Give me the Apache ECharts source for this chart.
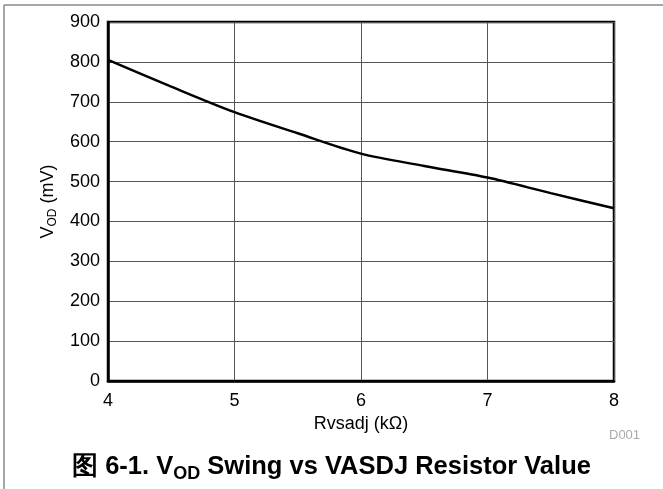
<!DOCTYPE html>
<html>
<head>
<meta charset="utf-8">
<script src="https://cdn.jsdelivr.net/npm/echarts@6/dist/echarts.min.js"></script>
<style>
  html, body { margin: 0; padding: 0; background: #fff; }
  #chart { width: 663px; height: 489px; }
</style>
</head>
<body>
<div id="chart"></div>
<script>
// 读图得到的数据
var resistance = [4, 4.5, 5, 5.5, 6, 6.5, 7, 7.5, 8];       // kΩ
var vod = [805, 738, 674, 621, 570, 539, 510, 471, 433];     // mV
var xTicks = [4, 5, 6, 7, 8];
var yTicks = [0, 100, 200, 300, 400, 500, 600, 700, 800, 900];

var font = 'Liberation Sans, Arial, sans-serif';

var points = resistance.map(function (r, i) { return [r, vod[i]]; });

var myChart = echarts.init(document.getElementById('chart'));

var option = {
    animation: false,
    grid: {
        left: 108, right: 49, top: 22, bottom: 108,
        show: true, borderColor: '#000', borderWidth: 2.5
    },
    title: {
        left: 'center',
        top: 445,
        text: '{a|图 6-1. V}{s|OD}{a| Swing vs VASDJ Resistor Value}',
        textStyle: {
            rich: {
                a: { fontSize: 25.5, fontWeight: 'bold', fontFamily: font, color: '#000', lineHeight: 33 },
                s: { fontSize: 18, fontWeight: 'bold', fontFamily: font, color: '#000', lineHeight: 25, verticalAlign: 'bottom' }
            }
        }
    },
    xAxis: {
        type: 'value',
        min: xTicks[0], max: xTicks[xTicks.length - 1], interval: 1,
        name: 'Rvsadj (kΩ)',
        nameLocation: 'middle',
        nameGap: 26,
        nameTextStyle: { fontSize: 18, fontFamily: font, color: '#000' },
        axisLine: { lineStyle: { color: '#000', width: 2.5 } },
        axisTick: { show: false },
        axisLabel: { margin: 11, fontSize: 18, fontFamily: font, color: '#000' },
        splitLine: { lineStyle: { color: '#555', width: 1 } }
    },
    yAxis: {
        type: 'value',
        min: yTicks[0], max: yTicks[yTicks.length - 1], interval: 100,
        name: '{a|V}{s|OD}{a| (mV)}',
        nameLocation: 'middle',
        nameGap: 49,
        nameRotate: 90,
        nameTextStyle: {
            rich: {
                a: { fontSize: 18, fontFamily: font, color: '#000', lineHeight: 22 },
                s: { fontSize: 12, fontFamily: font, color: '#000', lineHeight: 14, verticalAlign: 'bottom' }
            }
        },
        axisLine: { lineStyle: { color: '#000', width: 2.5 } },
        axisTick: { show: false },
        axisLabel: { margin: 8, fontSize: 18, fontFamily: font, color: '#000' },
        splitLine: { lineStyle: { color: '#555', width: 1 } }
    },
    series: [{
        type: 'line',
        data: points,
        smooth: 0.3,
        showSymbol: false,
        lineStyle: { color: '#000', width: 2.5 }
    }],
    graphic: [
        { type: 'line', shape: { x1: 4, y1: 5, x2: 663, y2: 5 }, style: { stroke: '#888', lineWidth: 1.5 } },
        { type: 'line', shape: { x1: 4, y1: 5, x2: 4, y2: 489 }, style: { stroke: '#888', lineWidth: 1.5 } },
        { type: 'text', left: 609, top: 429, style: { text: 'D001', fontSize: 13, fontFamily: font, fill: '#aaa' } }
    ]
};

myChart.setOption(option);
</script>
</body>
</html>
